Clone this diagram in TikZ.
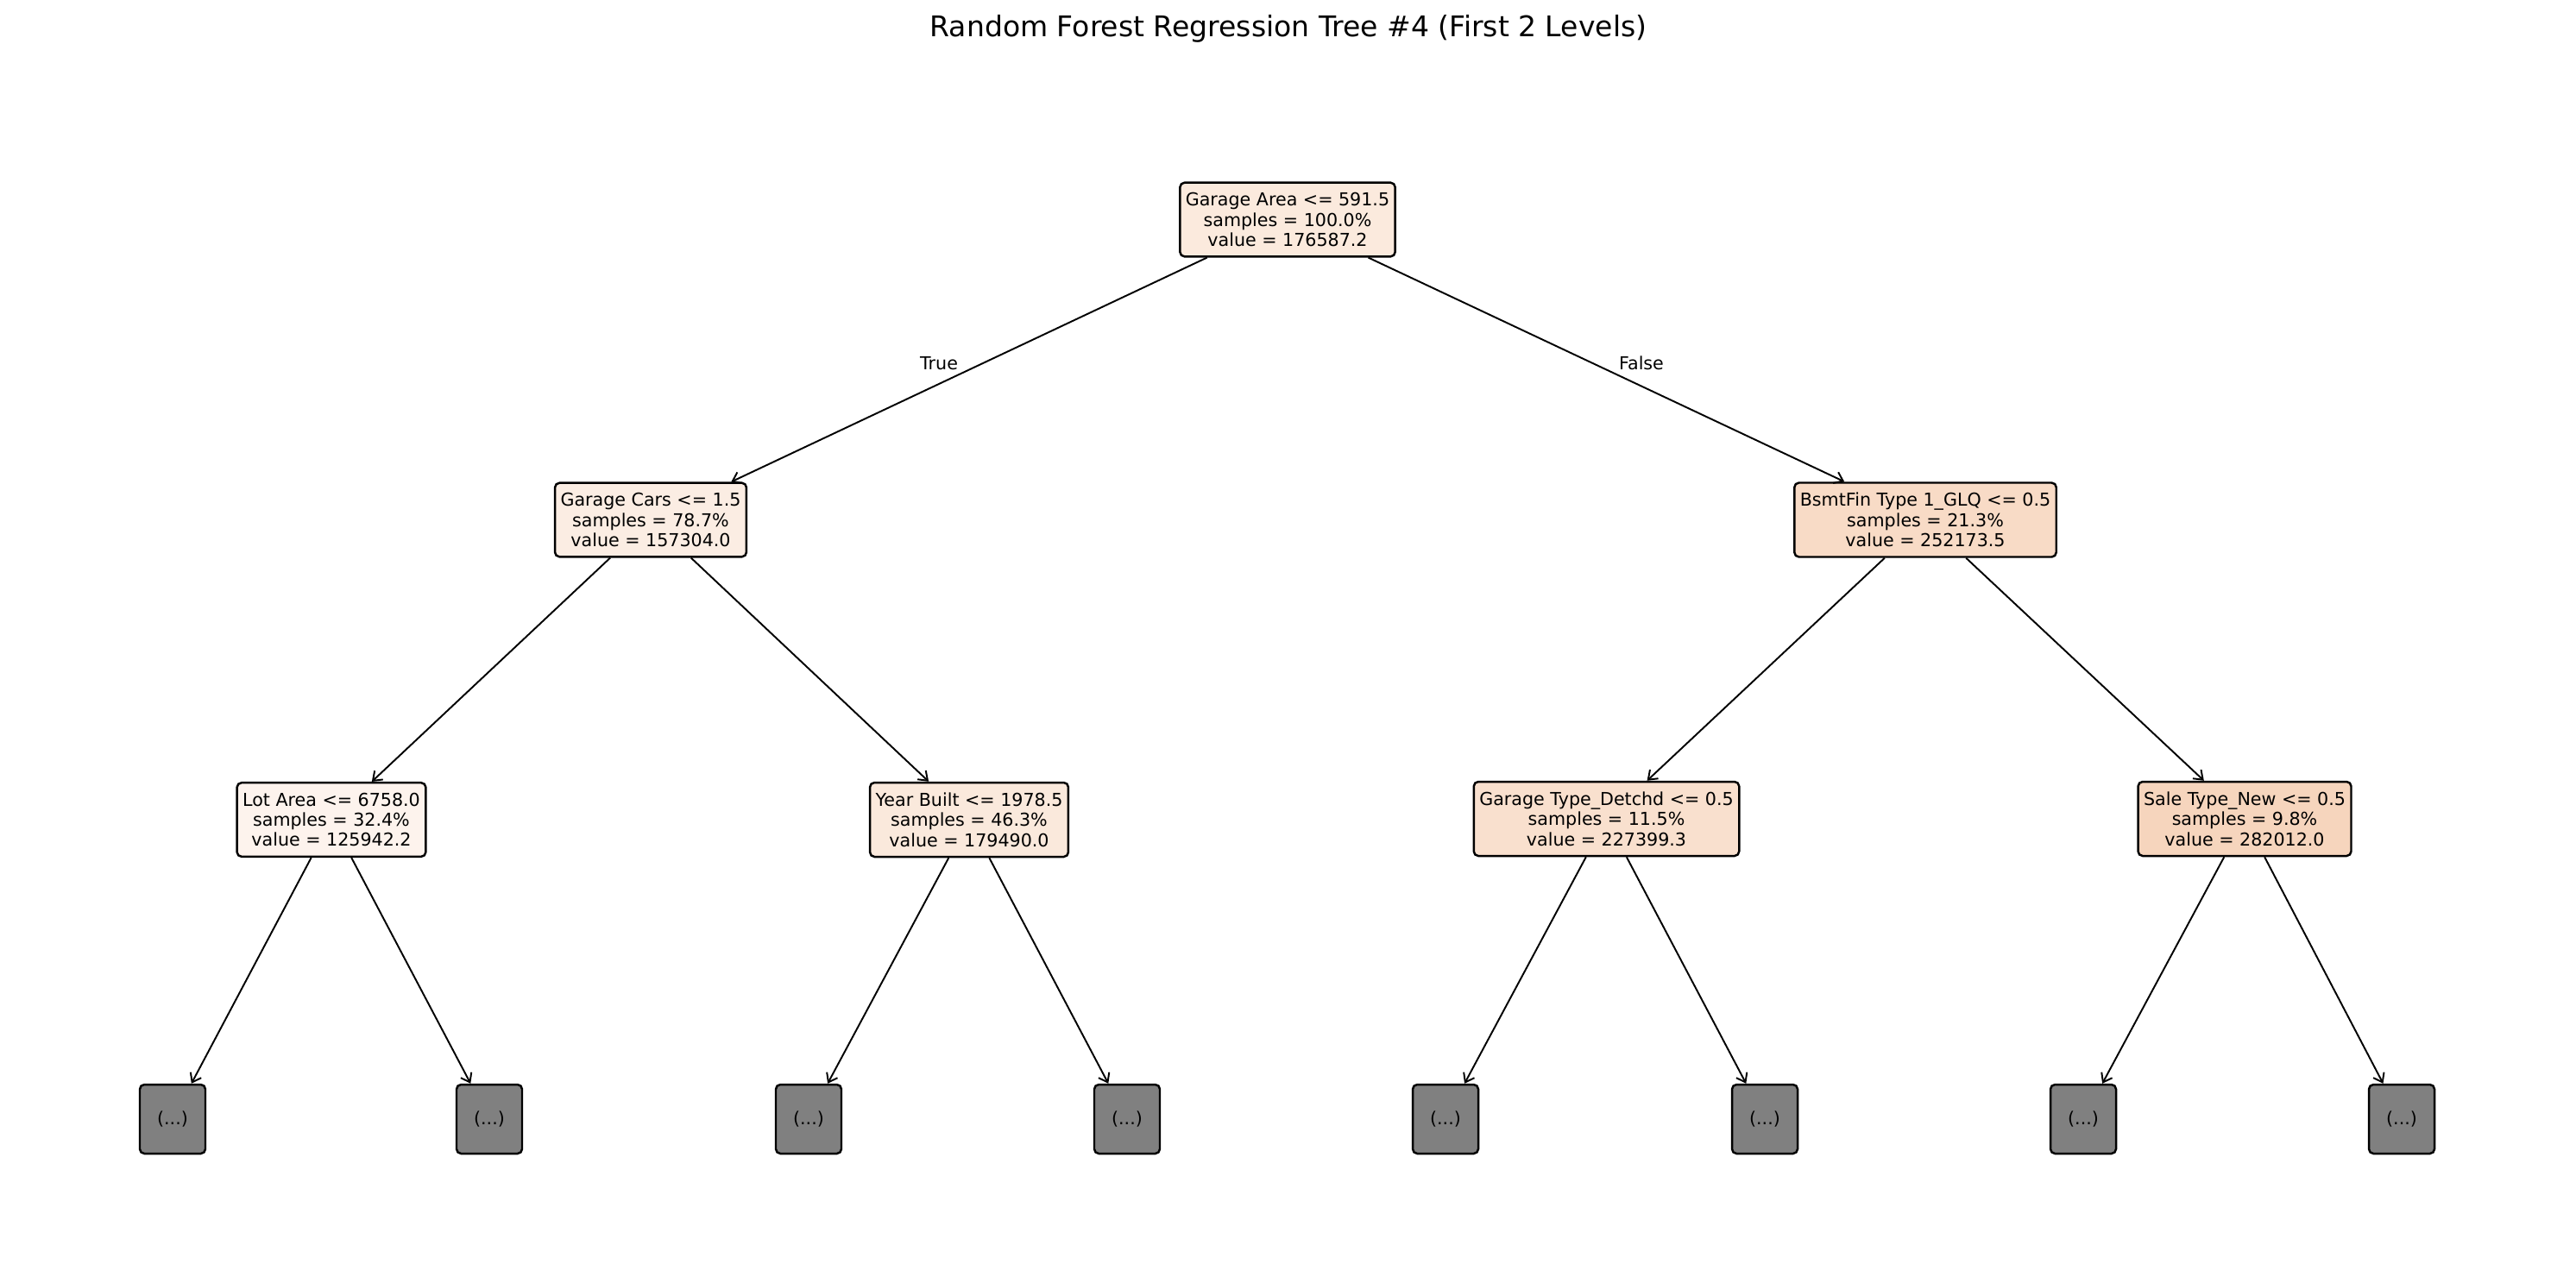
\documentclass[tikz,border=0pt]{standalone}
\usepackage{fontspec}
\setmainfont{DejaVu Sans}
\usetikzlibrary{arrows.meta,positioning}
\definecolor{rootfill}{HTML}{FBEADD}
\definecolor{carsfill}{HTML}{FBEDE3}
\definecolor{bsmtfill}{HTML}{F8DBC6}
\definecolor{lotfill}{HTML}{FDF3ED}
\definecolor{yearfill}{HTML}{FAE9DC}
\definecolor{detfill}{HTML}{F9E0CE}
\definecolor{salefill}{HTML}{F6D5BD}
\definecolor{hidden}{HTML}{808080}
\newcommand{\nodefont}{\fontsize{5.87}{6.63}\selectfont}
\tikzset{
  splitbox/.style={draw, rounded corners=1.5pt, line width=0.7pt, align=center,
    inner xsep=0.065cm, minimum height=0.8cm, font=\nodefont},
  leafbox/.style={draw, rounded corners=1.5pt, line width=0.7pt, fill=hidden,
    minimum width=0.76cm, minimum height=0.8cm, inner sep=0pt, font=\nodefont},
  edgelbl/.style={font=\nodefont, inner sep=0pt},
  arr/.style={-{Straight Barb[length=0.95mm,width=1.4mm]}, line width=0.55pt}
}
\begin{document}
\begin{tikzpicture}
  \useasboundingbox (0,0) rectangle (29.85,-14.86);
  \node[font=\fontsize{9.4}{11}\selectfont, anchor=base] (title) at (14.93,-0.42)
    {Random Forest Regression Tree \#4 (First 2 Levels)};
  % split nodes
  \node[splitbox, fill=rootfill] (root) at (14.92,-2.545)
    {Garage Area <= 591.5\\samples = 100.0\%\\value = 176587.2};
  \node[splitbox, fill=carsfill] (cars) at (7.54,-6.025)
    {Garage Cars <= 1.5\\samples = 78.7\%\\value = 157304.0};
  \node[splitbox, fill=bsmtfill] (bsmt) at (22.31,-6.025)
    {BsmtFin Type 1\_GLQ <= 0.5\\samples = 21.3\%\\value = 252173.5};
  \node[splitbox, fill=lotfill] (lot) at (3.84,-9.50)
    {Lot Area <= 6758.0\\samples = 32.4\%\\value = 125942.2};
  \node[splitbox, fill=yearfill] (year) at (11.23,-9.50)
    {Year Built <= 1978.5\\samples = 46.3\%\\value = 179490.0};
  \node[splitbox, fill=detfill] (detchd) at (18.615,-9.49)
    {Garage Type\_Detchd <= 0.5\\samples = 11.5\%\\value = 227399.3};
  \node[splitbox, fill=salefill] (sale) at (26.01,-9.49)
    {Sale Type\_New <= 0.5\\samples = 9.8\%\\value = 282012.0};
  \draw[arr] (root) -- (cars);
  \draw[arr] (root) -- (bsmt);
  \draw[arr] (cars) -- (lot);
  \draw[arr] (cars) -- (year);
  \draw[arr] (bsmt) -- (detchd);
  \draw[arr] (bsmt) -- (sale);
  \node[edgelbl] (truelbl) at (10.88,-4.21) {True};
  \node[edgelbl] (falselbl) at (19.02,-4.21) {False};
  % truncated children
  \foreach \i/\x/\up in {1/2.00/lot, 2/5.67/lot, 3/9.37/year, 4/13.06/year,
      5/16.75/detchd, 6/20.45/detchd, 7/24.14/sale, 8/27.83/sale} {
    \node[leafbox] (leaf\i) at (\x,-12.97) {(...)};
    \draw[arr] (\up) -- (leaf\i);
  }
\end{tikzpicture}
\end{document}
